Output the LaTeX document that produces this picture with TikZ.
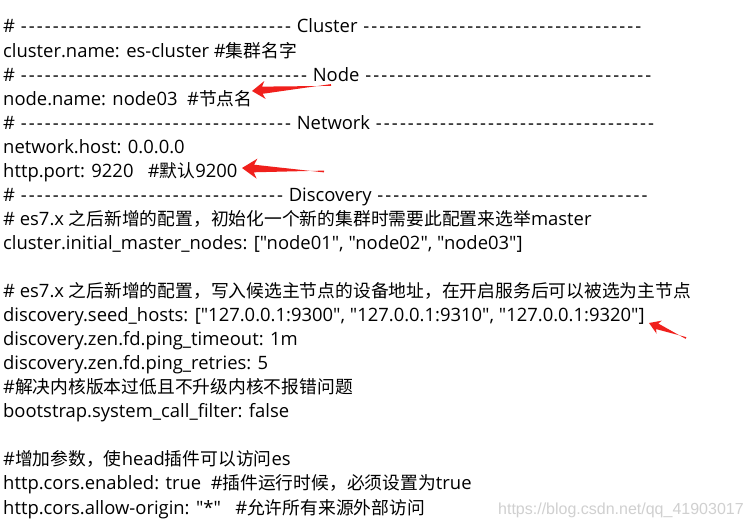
\documentclass[tikz,border=0pt]{standalone}
\usepackage{fontspec}
\setmainfont{Open Sans}[Ligatures=TeXOff]
\newfontfamily\cjk{Noto Sans CJK SC}[Scale=0.965]
\newfontfamily\wmfont{Liberation Sans}
\usetikzlibrary{calc}
\definecolor{arrowred}{RGB}{240,32,28}
\definecolor{wmgray}{RGB}{208,208,208}
\ExplSyntaxOn
\NewDocumentCommand\hyph{m}{\prg_replicate:nn{#1}{\makebox[8pt]{-}}}
\ExplSyntaxOff
\newcommand\redarrow[5]{%
  \fill[arrowred] (#1) -- ($(#1)!#3!(#2)!#4!90:(#2)$) -- ($(#1)!0.8*#3!(#2)!#5!90:(#2)$)
    -- ($(#2)!0.9pt!90:(#1)$) -- ($(#2)!0.9pt!-90:(#1)$)
    -- ($(#1)!0.8*#3!(#2)!#5!-90:(#2)$) -- ($(#1)!#3!(#2)!#4!-90:(#2)$) -- cycle;}
\begin{document}
\begin{tikzpicture}[x=1pt,y=-1pt,
  txt/.style={anchor=base west,inner sep=0pt,font=\fontsize{18.42}{24}\selectfont}]
\useasboundingbox (0,0) rectangle (750,529);
\fill[white] (0,0) rectangle (750,529);
\node[txt] (l1) at (3,33) {\# \hyph{34} Cluster \hyph{35}};
\node[txt] (l2) at (3,57.05) {cluster.name: es-cluster \#{\cjk 集群名字}};
\node[txt] (l3) at (3,81.1) {\# \hyph{36} Node \hyph{36}};
\node[txt] (l4) at (3,105.15) {node.name: node03\ \ \#{\cjk 节点名}};
\node[txt] (l5) at (3,129.2) {\# \hyph{34} Network \hyph{35}};
\node[txt] (l6) at (3,153.25) {network.host: 0.0.0.0};
\node[txt] (l7) at (3,177.3) {http.port: 9220\ \ \ \#{\cjk 默认}9200};
\node[txt] (l8) at (3,201.35) {\# \hyph{33} Discovery \hyph{34}};
\node[txt] (l9) at (3,225.4) {\# es7.x {\cjk 之后新增的配置，初始化一个新的集群时需要此配置来选举}master};
\node[txt] (l10) at (3,249.45) {cluster.initial\_master\_nodes: ["node01", "node02", "node03"]};
\node[txt] (l12) at (3,297.55) {\# es7.x {\cjk 之后新增的配置，写入候选主节点的设备地址，在开启服务后可以被选为主节点}};
\node[txt] (l13) at (3,321.6) {discovery.seed\_hosts: ["127.0.0.1:9300", "127.0.0.1:9310", "127.0.0.1:9320"]};
\node[txt] (l14) at (3,345.65) {discovery.zen.fd.ping\_timeout: 1m};
\node[txt] (l15) at (3,369.7) {discovery.zen.fd.ping\_retries: 5};
\node[txt] (l16) at (3,393.75) {\#{\cjk 解决内核版本过低且不升级内核不报错问题}};
\node[txt] (l17) at (3,417.8) {bootstrap.system\_call\_filter: false};
\node[txt] (l19) at (3,465.9) {\#{\cjk 增加参数，使}head{\cjk 插件可以访问}es};
\node[txt] (l20) at (3,489.95) {http.cors.enabled: true\ \ \#{\cjk 插件运行时候，必须设置为}true};
\node[txt] (l21) at (3,514) {http.cors.allow-origin: "*"\ \ \ \#{\cjk 允许所有来源外部访问}};
\node[anchor=base west,inner sep=0pt,text=wmgray,font=\wmfont\fontsize{16}{18}\selectfont] (wm) at (498,514) {https://blog.csdn.net/qq\_41903017};
\coordinate (a1h) at (252,91);  \coordinate (a1t) at (331,85);
\coordinate (a2h) at (242,168); \coordinate (a2t) at (324,171.5);
\coordinate (a3h) at (649,323); \coordinate (a3t) at (686,338);
\redarrow{a1h}{a1t}{13pt}{9pt}{3.6pt}
\redarrow{a2h}{a2t}{15pt}{10pt}{3.8pt}
\redarrow{a3h}{a3t}{11pt}{7pt}{3pt}
\end{tikzpicture}
\end{document}
